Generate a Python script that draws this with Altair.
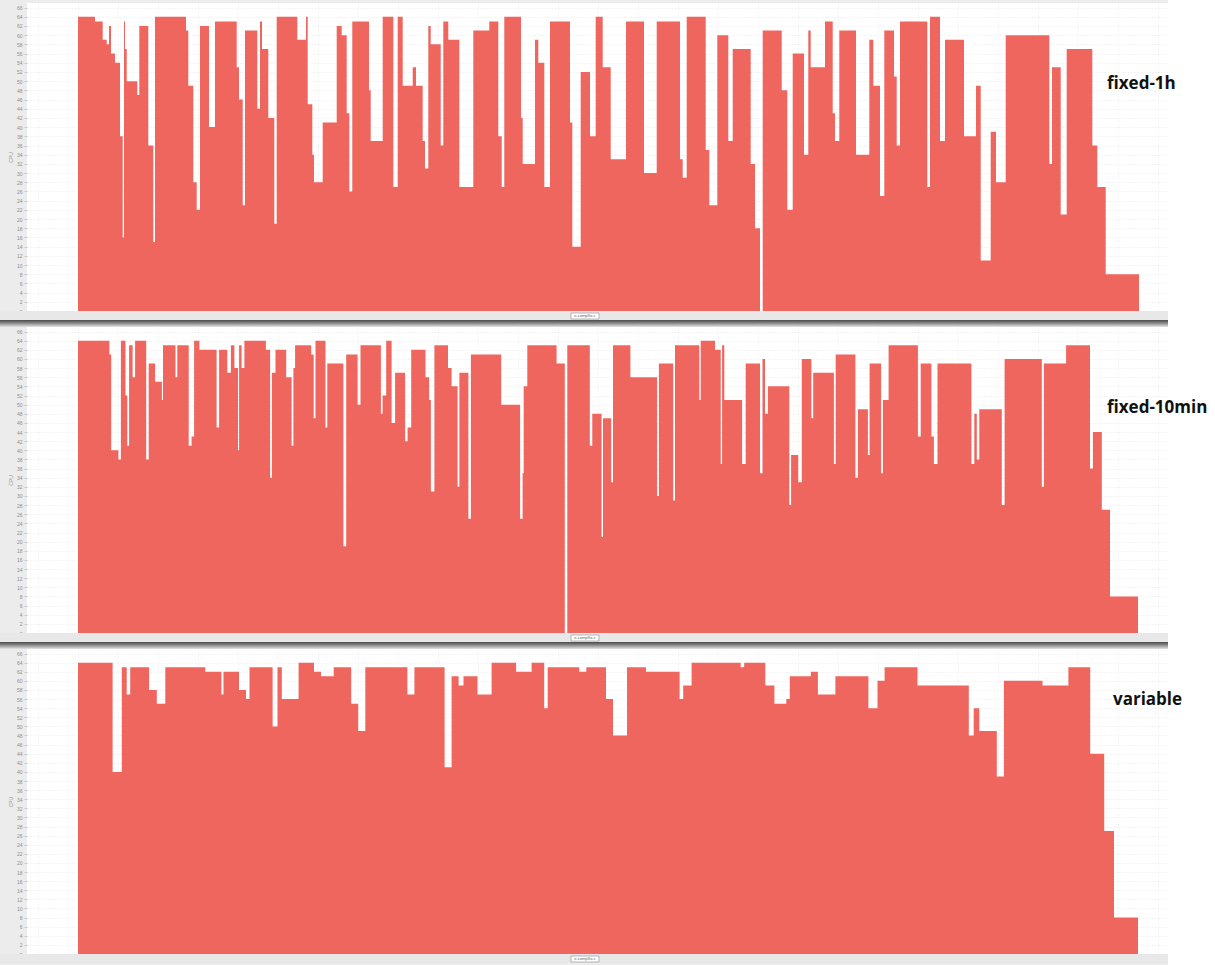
import altair as alt
import pandas as pd

# (time, CPUs) step points for each policy
P1 = [(0,64),(17,63),(24.7,59),(28.7,58),(31,62),(33,56),(37,54),(42,38),(44.7,16),(46,63),(47,57),(48.7,50),
      (59.3,47),(61.3,62),(70.3,36),(75.3,15),(77,64),(108,61),(110.3,49),(115.3,28),(118.7,22),(122,62),(131,40),
      (137,63),(158.7,53),(161,46),(164.7,23),(167,61),(179.3,44),(182,63),(184,57),(190.3,42),(196.3,19),(198.7,64),
      (219.3,59),(228,64),(229.7,45),(234.3,34),(236,28),(244.7,41),(258.7,62),(263.7,60),(268.7,43),(271.3,26),
      (274.3,63),(291,48),(292.7,37),(304.7,64),(315.3,27),(319.7,64),(324.7,49),(334.7,53),(338,49),(344.7,37),
      (347,31),(350.3,62),(352.7,58),(362.7,36),(365.3,63),(370.3,59),(381.3,27),(395.3,61),(411.3,63),(420.3,38),
      (423.7,27),(426.3,64),(443,42),(444.7,32),(457,59),(460.3,54),(466.3,27),(472,63),(492,41),(494.3,14),
      (502.7,52),(512,38),(517.7,64),(524.7,53),(532.7,33),(548,63),(566,30),(578.7,63),(602,33),(604.7,29),
      (608.7,64),(627.7,35),(631.3,23),(639.3,60),(650.3,37),(654.7,57),(672.7,32),(677,18),(682,0),(684.7,61),
      (703.7,48),(709.3,22),(714.7,56),(726,34),(730.3,61),(732.7,53),(747,63),(754.7,43),(757,37),(761.3,61),
      (778,34),(791.3,59),(795.3,49),(802,25),(806.3,61),(816,51),(818.7,36),(822,63),(849.3,27),(852,64),
      (862,37),(867,59),(886,38),(898,49),(902.7,11),(912.7,39),(918,28),(927.7,60),(971.3,32),(974,53),
      (982.7,21),(988.7,57),(1014.3,36),(1019.3,27),(1027.7,8),(1061,8)]

P2 = [(0,64),(31.4,61),(33.2,40),(40.4,38),(42.9,64),(47.5,52),(49.3,41),(51.1,63),(54.6,56),(57.1,64),(68.2,38),
      (70.7,59),(77.1,55),(83.9,51),(85,63),(97.5,56),(99.3,63),(110.7,41),(113.6,43),(116.1,64),(121.4,62),
      (138.6,45),(141.1,62),(149.3,57),(152.9,63),(156.4,58),(160,40),(161.1,63),(163.6,58),(166.4,64),(187.9,62),
      (192.1,34),(193.9,57),(197.5,62),(208.2,56),(213.6,41),(215.4,58),(217.1,63),(233.2,61),(235.7,47),(237.5,64),
      (247.5,45),(249.3,59),(265.4,19),(268.2,61),(279.6,50),(282.5,63),(302.9,48),(304.6,52),(308.2,64),(313.6,46),
      (317.1,57),(327.1,42),(329.6,45),(333.2,62),(347.5,56),(351.1,51),(352.9,31),(356.4,63),(370,58),(373.6,54),
      (379.6,32),(381.4,57),(390.4,25),(392.9,61),(423.2,50),(442.1,25),(444.6,35),(445.7,54),(449.3,63),(478.6,59),
      (486.8,0),(489.3,63),(511.8,41),(514.3,48),(523.6,21),(525,47),(533.2,33),(535,63),(552.4,56),(579.1,30),
      (580.9,59),(595.2,29),(597,63),(621.3,51),(622.7,64),(637,62),(642.7,37),(644.1,63),(646.3,51),(664.1,37),
      (667.7,59),(682,35),(684.5,60),(687,48),(689.9,54),(711.3,28),(713.1,39),(720.2,33),(723.8,60),(733.4,47),
      (735.2,57),(755.9,37),(757.7,61),(777.4,34),(779.9,49),(789.9,39),(791.6,59),(803.1,35),(804.9,51),(810.6,63),
      (839.9,43),(842.7,59),(853.4,43),(855.9,37),(859.5,59),(893.4,37),(896.3,48),(898.8,38),(901.3,49),(923.8,28),
      (926.6,60),(963.8,32),(965.9,59),(988.1,63),(1012,36),(1014.9,44),(1023.8,27),(1032,8),(1060,8)]

P3 = [(0,64),(34.6,40),(43.8,63),(48.7,57),(52.2,63),(71.1,58),(78.8,55),(87.3,63),(127.3,62),(143.4,57),(145.5,62),
      (161,58),(168,56),(171.5,63),(194.6,50),(199.5,63),(203.8,56),(220.6,64),(236,62),(243,61),(255.7,63),
      (273.2,55),(280.2,49),(287.3,63),(329.4,57),(336.4,63),(366.6,41),(373.6,61),(380.6,59),(385.5,61),(399.5,57),
      (413.6,64),(438.1,62),(453.6,64),(466.2,54),(469.7,63),(501.3,62),(508.3,63),(528,56),(535,48),(549,63),
      (568,62),(601.6,56),(605.2,59),(613.6,64),(662.7,63),(666.2,64),(687.3,59),(696.4,55),(708.3,56),(711.8,61),
      (732.9,62),(739.9,57),(757.4,61),(790.4,54),(799.5,60),(806.6,63),(839.5,59),(890.8,48),(895.7,54),(901.3,49),
      (918.8,39),(925.9,60),(964.5,59),(990.4,63),(1012.2,44),(1026.2,27),(1036,8),(1060,8)]

LABELS = ["fixed-1h", "fixed-10min", "variable"]
Y_TICKS = list(range(0, 67, 2))
X_GRID = list(range(-40, 1090, 40))

W = 1141
RED = "#EF665F"
one = pd.DataFrame({"a": [0]})


def panel(points, label, h, lx, ly, first, last):
    df = pd.DataFrame(points, columns=["t", "cpu"])
    area = alt.Chart(df).mark_area(interpolate="step-after", color=RED, opacity=1).encode(
        x=alt.X("t:Q", scale=alt.Scale(domain=[-51, 1090], nice=False, zero=False),
                axis=alt.Axis(title=None, labels=False, ticks=False, domain=False, values=X_GRID,
                              grid=True, gridColor="#ececec", gridWidth=1, gridDash=[1, 2])),
        y=alt.Y("cpu:Q", scale=alt.Scale(domain=[0, 67], nice=False),
                axis=alt.Axis(title="CPU", values=Y_TICKS, labelFontSize=5, labelColor="#8e8e8e",
                              tickSize=3, tickColor="#c8c8c8", labelPadding=2, domain=False,
                              titleFontSize=5, titleColor="#8e8e8e", titleFontWeight="normal",
                              titlePadding=3, grid=True, gridColor="#e8e8e8", gridWidth=1,
                              gridDash=[1, 2])),
    )
    right = alt.Chart(one).mark_rect(color="white").encode(
        x=alt.value(W), x2=alt.value(W + 47),
        y=alt.value(-3 if first else -16), y2=alt.value(h + 16))
    strip = alt.Chart(one).mark_rect(color="#e8e8e8").encode(
        x=alt.value(-27), x2=alt.value(W), y=alt.value(h), y2=alt.value(h + 9))
    box = alt.Chart(one).mark_rect(fill="white", stroke="#9a9a9a", strokeWidth=0.7).encode(
        x=alt.value(544), x2=alt.value(572), y=alt.value(h + 2), y2=alt.value(h + 8))
    boxt = alt.Chart(one).mark_text(text="e-complfix-c", fontSize=4, color="#666666",
                                    align="center", baseline="middle").encode(
        x=alt.value(558), y=alt.value(h + 5))
    layers = [area, right, strip, box, boxt]
    if not last:
        sep = alt.Chart(one).mark_rect(
            color=alt.LinearGradient(gradient="linear", x1=0, x2=0, y1=0, y2=1,
                                     stops=[alt.GradientStop(offset=0, color="#4a4a4a"),
                                            alt.GradientStop(offset=0.35, color="#7a7a7a"),
                                            alt.GradientStop(offset=1, color="#e4e4e4")])
        ).encode(x=alt.value(-27), x2=alt.value(W), y=alt.value(h + 9), y2=alt.value(h + 16))
        layers.append(sep)
    txt = alt.Chart(one).mark_text(text=label, font="Open Sans", fontWeight="bold", fontSize=17,
                                   color="#111111", align="left", baseline="middle").encode(
        x=alt.value(lx), y=alt.value(ly))
    layers.append(txt)
    return alt.layer(*layers).properties(width=W, height=h)


c1 = panel(P1, LABELS[0], 308, 1080, 81, True, False)
c2 = panel(P2, LABELS[1], 306, 1080, 81, False, False)
c3 = panel(P3, LABELS[2], 305, 1086, 51, False, True)

chart = alt.vconcat(c1, c2, c3, spacing=16, bounds="flush").resolve_scale(y="independent", x="independent").configure(
    background="#ececec",
    padding={"left": 0, "top": 0, "right": 0, "bottom": 0},
).configure_view(fill="white", strokeWidth=0)

chart.save("out.html", embed_options={"renderer": "svg", "actions": False})
